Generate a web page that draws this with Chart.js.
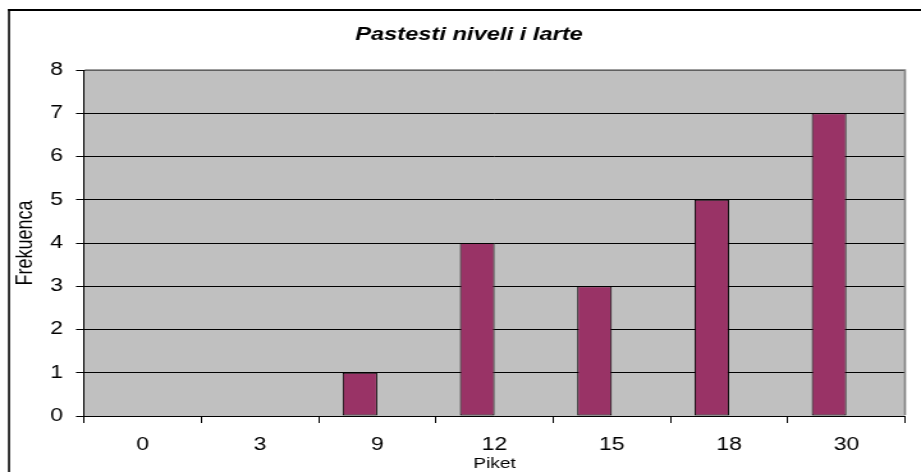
<!DOCTYPE html>
<html><head><meta charset="utf-8">
<script src="https://cdn.jsdelivr.net/npm/chart.js@4"></script>
<style>html,body{margin:0;padding:0;background:#fff;overflow:hidden}</style>
</head><body>
<canvas id="c" width="720" height="472" style="display:block;width:921px;height:472px"></canvas>
<script>
const categories = ['0', '3', '9', '12', '15', '18', '30'];
const frequencies = [0, 0, 1, 4, 3, 5, 7];
const emptySeries = [null, null, null, null, null, null, null];
const yTickMin = 0;
const yTickMax = 8;
const yTickStep = 1;
const chartTitle = 'Pastesti niveli i larte';
const xTitle = 'Piket';
const yTitle = 'Frekuenca';

const W = 720, H = 472;
const S = 921 / W; // horizontal stretch of the canvas
const FAM = "'Liberation Sans', Arial, sans-serif";

const frame = {
  id: 'frame',
  beforeDraw(chart) {
    const {ctx, chartArea: a, width, height} = chart;
    ctx.save();
    ctx.fillStyle = '#fff';
    ctx.fillRect(0, 0, width, height);
    ctx.fillStyle = '#000';
    ctx.fillRect(8 / S, 9, width, 2);
    ctx.fillRect(8 / S, 9, 2 / S, height);
    ctx.fillStyle = '#C0C0C0';
    ctx.fillRect(a.left, a.top, a.right - a.left, a.bottom - a.top);
    ctx.restore();
  },
  afterDraw(chart) {
    const {ctx, chartArea: a} = chart;
    ctx.save();
    ctx.strokeStyle = '#808080';
    ctx.lineWidth = 1.6;
    ctx.beginPath();
    ctx.moveTo(a.left + 0.6, a.top);
    ctx.lineTo(a.right, a.top);
    ctx.lineTo(a.right, a.bottom - 1);
    ctx.stroke();
    ctx.restore();
  }
};

new Chart(document.getElementById('c'), {
  type: 'bar',
  data: {
    labels: categories,
    datasets: [
      {label: yTitle, data: frequencies, backgroundColor: '#993366', borderColor: '#000', borderWidth: 1, borderSkipped: false},
      {label: '', data: emptySeries, backgroundColor: '#FFFFCC', borderColor: '#000', borderWidth: 1}
    ]
  },
  options: {
    responsive: false,
    animation: false,
    devicePixelRatio: 1,
    events: [],
    categoryPercentage: 0.59,
    barPercentage: 1,
    layout: {padding: {left: 33 / S, right: 16 / S, top: 0, bottom: 0}},
    plugins: {
      legend: {display: false},
      tooltip: {enabled: false},
      title: {
        display: true, text: chartTitle, color: '#000',
        font: {family: FAM, size: 18.5, style: 'italic', weight: 'bold', lineHeight: 1.2},
        padding: {top: 24, bottom: 23.8}
      }
    },
    scales: {
      x: {
        grid: {display: true, drawOnChartArea: false, drawTicks: true, tickLength: 7, color: '#000', lineWidth: 1, offset: true},
        border: {display: true, color: '#000', width: 1},
        ticks: {color: '#000', font: {family: FAM, size: 18, lineHeight: 1.2}, padding: 11.2, maxRotation: 0, autoSkip: false},
        title: {display: true, text: xTitle, color: '#000', font: {family: FAM, size: 15, lineHeight: 1.2}, padding: {top: 0, bottom: -1}},
        afterFit(s) { s.height = 56; }
      },
      y: {
        min: yTickMin, max: yTickMax,
        ticks: {stepSize: yTickStep, color: '#000', font: {family: FAM, size: 18, lineHeight: 1.2}, padding: 13 / S},
        grid: {color: '#000', lineWidth: 1, tickLength: 8 / S, drawTicks: true},
        border: {display: true, color: '#000', width: 1},
        title: {display: true, text: yTitle, color: '#000', font: {family: FAM, size: 18, lineHeight: 1.2}, padding: {top: (25 - 33) / S - 10.8, bottom: 0}},
        afterFit(s) { s.width = 51 / S; }
      }
    }
  },
  plugins: [frame]
});
</script>
</body></html>
